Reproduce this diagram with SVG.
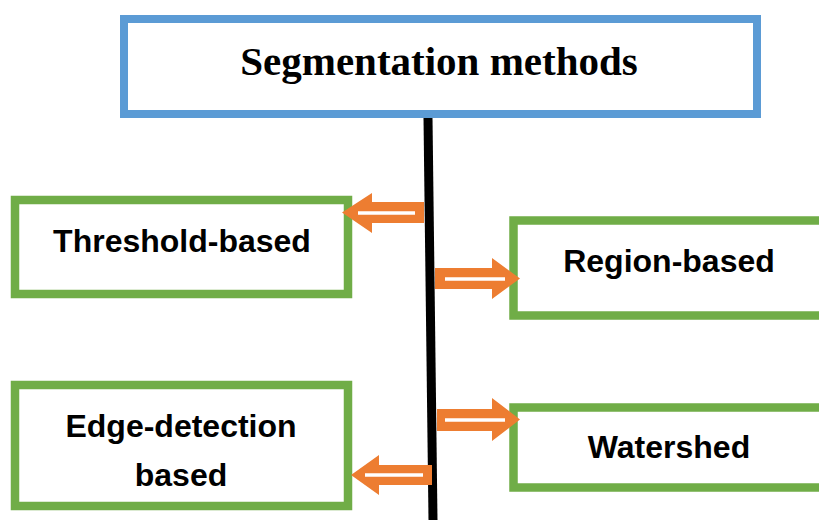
<svg xmlns="http://www.w3.org/2000/svg" width="819" height="520" viewBox="0 0 819 520">
<style>
.box{fill:#fff;stroke:#70AD47;stroke-width:8.5}
.top{fill:#fff;stroke:#5B9BD5;stroke-width:8}
.lbl{font-family:"Liberation Sans",Arial,sans-serif;font-weight:bold;font-size:32px;fill:#000;text-anchor:middle}
.ttl{font-family:"Liberation Serif","Times New Roman",serif;font-weight:bold;font-size:41px;fill:#000;text-anchor:middle}
.arr{fill:#ED7D31}
.wl{stroke:#fff;stroke-width:3.5}
</style>
<rect width="819" height="520" fill="#fff"/>
<g id="node-segmentation">
<rect class="top" x="124" y="19" width="633" height="95"/>
<text class="ttl" x="439" y="75">Segmentation methods</text>
</g>
<g id="node-threshold">
<rect class="box" x="15" y="200" width="333" height="94"/>
<text class="lbl" x="182" y="252">Threshold-based</text>
</g>
<g id="node-region">
<rect class="box" x="513.5" y="220.5" width="320" height="95"/>
<text class="lbl" x="669" y="272">Region-based</text>
</g>
<g id="node-edge">
<rect class="box" x="15" y="385" width="333" height="121"/>
<text class="lbl" x="181" y="437">Edge-detection</text>
<text class="lbl" x="181" y="486">based</text>
</g>
<g id="node-watershed">
<rect class="box" x="513.5" y="407.5" width="320" height="80"/>
<text class="lbl" x="669" y="458">Watershed</text>
</g>
<g id="connectors">
<line x1="428" y1="118" x2="433" y2="520" stroke="#000" stroke-width="9"/>
<g id="arrow-threshold">
<polygon class="arr" points="424,202 372,202 372,193 342,212.5 372,233 372,223 424,223"/>
<line class="wl" x1="358" y1="213" x2="415" y2="213"/>
</g>
<g id="arrow-region">
<polygon class="arr" points="435,268 492,268 492,258 520,278.5 492,299 492,289 435,289"/>
<line class="wl" x1="445" y1="279" x2="505" y2="279"/>
</g>
<g id="arrow-watershed">
<polygon class="arr" points="437,409 492,409 492,398 520,419.5 492,441 492,431 437,431"/>
<line class="wl" x1="445" y1="420" x2="505" y2="420"/>
</g>
<g id="arrow-edge">
<polygon class="arr" points="432,465 379,465 379,455 351,475 379,495 379,485 432,485"/>
<line class="wl" x1="365" y1="475" x2="423" y2="475"/>
</g>
</g>
</svg>
